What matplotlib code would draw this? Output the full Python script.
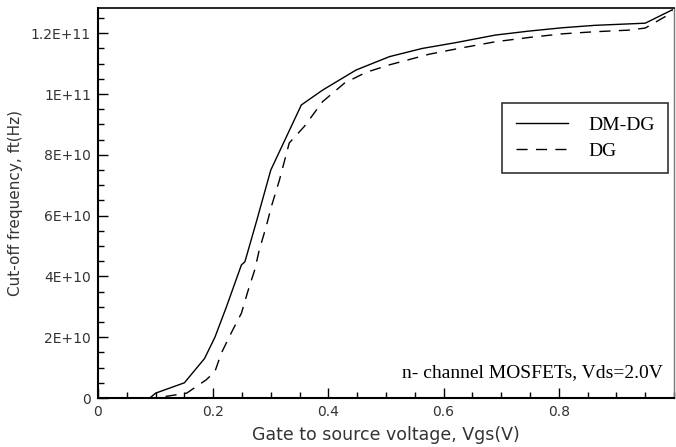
import matplotlib
matplotlib.use("Agg")
import matplotlib.pyplot as plt
from matplotlib.ticker import MultipleLocator

# Data (Vgs in V, fT in Hz)
vgs_dmdg = [0.05, 0.09, 0.10, 0.15, 0.185, 0.203, 0.223, 0.249, 0.255, 0.275, 0.30,
            0.353, 0.39, 0.448, 0.506, 0.563, 0.621, 0.69, 0.748, 0.806, 0.863,
            0.95, 0.997]
ft_dmdg = [0.0, 0.0, 0.16e10, 0.5e10, 1.3e10, 2.0e10, 3.0e10, 4.38e10, 4.48e10,
           5.8e10, 7.5e10, 9.64e10, 10.13e10, 10.79e10, 11.23e10, 11.5e10, 11.69e10,
           11.94e10, 12.07e10, 12.18e10, 12.26e10, 12.33e10, 12.77e10]

vgs_dg = [0.05, 0.10, 0.154, 0.188, 0.203, 0.214, 0.231, 0.249, 0.26, 0.272, 0.28,
          0.292, 0.301, 0.315, 0.332, 0.358, 0.39, 0.428, 0.465, 0.506, 0.575,
          0.632, 0.69, 0.748, 0.806, 0.863, 0.92, 0.95, 0.985, 0.997]
ft_dg = [0.0, 0.0, 0.16e10, 0.6e10, 0.87e10, 1.47e10, 2.13e10, 2.79e10, 3.5e10,
         4.21e10, 4.87e10, 5.64e10, 6.3e10, 7.17e10, 8.39e10, 8.93e10, 9.75e10,
         10.36e10, 10.71e10, 10.96e10, 11.31e10, 11.52e10, 11.72e10, 11.86e10,
         11.98e10, 12.05e10, 12.1e10, 12.17e10, 12.55e10, 12.75e10]

series_labels = ["DM-DG", "DG"]
x_label = "Gate to source voltage, Vgs(V)"
y_label = "Cut-off frequency, ft(Hz)"
note = "n- channel MOSFETs, Vds=2.0V"
y_ticks = [0, 2e10, 4e10, 6e10, 8e10, 1e11, 1.2e11]
y_tick_labels = ["0", "2E+10", "4E+10", "6E+10", "8E+10", "1E+11", "1.2E+11"]
x_ticks = [0, 0.2, 0.4, 0.6, 0.8]
x_tick_labels = ["0", "0.2", "0.4", "0.6", "0.8"]

fig = plt.figure(figsize=(6.76, 4.47), dpi=100)
ax = fig.add_axes([98/676, 49/447, 576/676, 390/447])

ax.plot(vgs_dmdg, ft_dmdg, color="black", lw=1.0, ls="-", label=series_labels[0])
ax.plot(vgs_dg, ft_dg, color="black", lw=1.0, ls=(0, (8, 6)), label=series_labels[1])

ax.set_xlim(0, 1.0)
ax.set_ylim(0, 1.283e11)

ax.set_xticks(x_ticks)
ax.set_xticklabels(x_tick_labels)
ax.set_yticks(y_ticks)
ax.set_yticklabels(y_tick_labels)
ax.xaxis.set_minor_locator(MultipleLocator(0.05))
ax.yaxis.set_minor_locator(MultipleLocator(5e9))

tick_color = "#333333"
ax.tick_params(axis="both", which="major", direction="in", length=7, width=1,
               labelsize=10, labelcolor=tick_color, top=False, right=False)
ax.tick_params(axis="both", which="minor", direction="in", length=4.5, width=1,
               top=False, right=False)
ax.tick_params(axis="x", pad=5)
ax.tick_params(axis="y", pad=5)

for side in ["left", "bottom"]:
    ax.spines[side].set_linewidth(1.5)
ax.spines["top"].set_linewidth(1.2)
ax.spines["right"].set_linewidth(1.0)
ax.spines["right"].set_color("#777777")

ax.set_xlabel(x_label, fontsize=12.5, color=tick_color, labelpad=5)
ax.set_ylabel(y_label, fontsize=11, color=tick_color, labelpad=6)

leg = ax.legend(loc="upper right", bbox_to_anchor=(0.9896, 0.7564),
                borderaxespad=0,
                prop={"family": "Liberation Serif", "size": 14},
                frameon=True, fancybox=False, edgecolor="black",
                handlelength=2.7, handletextpad=1.0, borderpad=0.7,
                labelspacing=0.4)
leg.get_frame().set_linewidth(1.2)

ax.text(0.981, 0.064, note, transform=ax.transAxes, ha="right", va="center",
        family="Liberation Serif", fontsize=14, color="black")

fig.savefig("out.png", dpi=100)
